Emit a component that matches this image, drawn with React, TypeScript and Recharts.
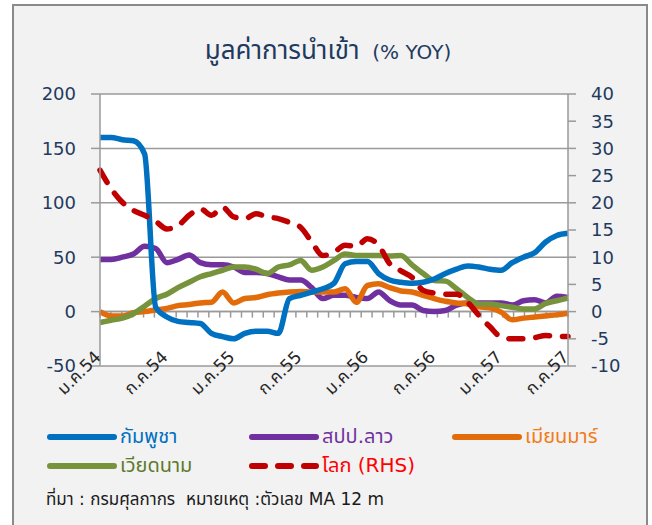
import React from "react";
import {
  ComposedChart,
  Line,
  XAxis,
  YAxis,
  CartesianGrid,
  ReferenceLine,
} from "recharts";

const categories = [
  "ม.ค.54","ก.พ.54","มี.ค.54","เม.ย.54","พ.ค.54","มิ.ย.54","ก.ค.54","ส.ค.54","ก.ย.54","ต.ค.54","พ.ย.54","ธ.ค.54",
  "ม.ค.55","ก.พ.55","มี.ค.55","เม.ย.55","พ.ค.55","มิ.ย.55","ก.ค.55","ส.ค.55","ก.ย.55","ต.ค.55","พ.ย.55","ธ.ค.55",
  "ม.ค.56","ก.พ.56","มี.ค.56","เม.ย.56","พ.ค.56","มิ.ย.56","ก.ค.56","ส.ค.56","ก.ย.56","ต.ค.56","พ.ย.56","ธ.ค.56",
  "ม.ค.57","ก.พ.57","มี.ค.57","เม.ย.57","พ.ค.57","มิ.ย.57","ก.ค.57",
];

const cambodia = [160,160,158,157,145,4,-5,-9,-10,-11,-20,-23,-25,-20,-18,-18,-20,12,15,18,21,26,44,46,46,35,29,27,26,27,30,35,39,42,41,39,38,45,50,54,64,70,72];
const laos = [48,48,50,53,60,58,45,48,52,45,43,43,41,36,36,35,32,29,29,22,12,15,15,13,12,18,10,6,6,1,0,1,6,8,8,8,8,6,10,11,8,14,13];
const myanmar = [0,-4,-4,-1,0,1.5,3,5.5,6.5,8,8.5,18,8,12,13,15.5,17,18,18.5,18,18,18,21,8.5,24,25.5,22,19,18,15,12,9.5,8,7,4.5,3.5,-0.5,-7.5,-6,-5,-4,-3,-1.5];
const vietnam = [-10,-8,-6,-2,5,12,16,22,27,32,35,38,41,41,39,35,41,43,47,38,41,47,53,51.5,51.5,51.5,51,51.5,43,35,28.5,28,21,13,7,7,5.5,4,2.5,2.5,7.5,10,12.5];
const world = [26,22.6,20.1,18.6,17.7,16.6,15.2,15.8,17.7,18.9,17.7,19.2,17.4,17.1,18,17.4,17.1,16.4,15.5,12.8,10.3,10.9,12.2,12,13.4,12.2,8.8,7.5,6.3,3.9,3.4,3.2,3.2,1.7,-0.7,-2.8,-4.7,-5,-5,-4.8,-4.4,-4.6,-4.6];

const leftTicks = [-50, 0, 50, 100, 150, 200];
const rightTicks = [-10, -5, 0, 5, 10, 15, 20, 25, 30, 35, 40];

const data = categories.map((c, i) => ({
  month: c,
  cambodia: cambodia[i],
  laos: laos[i],
  myanmar: myanmar[i],
  vietnam: vietnam[i],
  world: world[i],
}));

const FONT = "'DejaVu Sans', 'Noto Sans Thai', 'Noto Sans', sans-serif";
const NAVY = "#1F3A60";
const GRID = "#9a9a9a";

const ZeroAxis = (props: any) => {
  const { x1, y1, x2 } = props;
  const n = categories.length;
  const step = (x2 - x1) / n;
  const ticks = [];
  for (let k = 0; k <= n; k++) {
    const x = x1 + k * step;
    ticks.push(<line key={k} x1={x} x2={x} y1={y1} y2={y1 + 6} stroke={GRID} strokeWidth={1.5} />);
  }
  return (
    <g>
      <line x1={x1} x2={x2} y1={y1} y2={y1} stroke={GRID} strokeWidth={1.5} />
      {ticks}
    </g>
  );
};

const XTick = (props: any) => {
  const { x, y, payload } = props;
  const ax = x + 2;
  const ay = y - 8;
  return (
    <text
      x={ax}
      y={ay}
      transform={`rotate(-45, ${ax}, ${ay})`}
      textAnchor="end"
      fontSize={17}
      fill="#262626"
      fontFamily={FONT}
    >
      {payload.value}
    </text>
  );
};

const LegendItem = ({ color, text, textColor, dashed, left, top }: any) => (
  <div style={{ position: "absolute", left, top, display: "flex", alignItems: "center", height: 24 }}>
    <svg width={72} height={10} style={{ display: "block" }}>
      <line
        x1={4}
        x2={68}
        y1={5}
        y2={5}
        stroke={color}
        strokeWidth={6}
        strokeLinecap="round"
        strokeDasharray={dashed ? "13 13" : undefined}
      />
    </svg>
    <span style={{ color: textColor, fontSize: 20, fontFamily: FONT, marginLeft: 2, whiteSpace: "nowrap" }}>{text}</span>
  </div>
);

export default function App() {
  return (
    <div style={{ position: "absolute", left: 0, top: 0, width: 652, height: 525, background: "#fff", overflow: "hidden" }}>
      <div
        style={{
          position: "absolute",
          left: 12,
          top: 4,
          width: 636,
          height: 540,
          border: "2px solid #8a8a8a",
          background: "#f2f2f2",
          boxSizing: "border-box",
        }}
      />
      <div
        style={{
          position: "absolute",
          left: 0,
          width: 656,
          top: 31,
          textAlign: "center",
          color: NAVY,
          fontFamily: FONT,
          whiteSpace: "nowrap",
        }}
      >
        <span style={{ fontSize: 26 }}>มูลค่าการนำเข้า</span>
        <span style={{ fontSize: 20 }}>{"\u00a0\u00a0(% YOY)"}</span>
      </div>
      <div style={{ position: "absolute", left: 0, top: 0 }}>
        <ComposedChart
          width={652}
          height={525}
          data={data}
          margin={{ top: 94, right: 34, bottom: 109, left: 50 }}
        >
          <CartesianGrid yAxisId="left" vertical={false} horizontal={true} stroke={GRID} strokeWidth={1.5} fill="#ffffff" fillOpacity={1} />
          <XAxis
            dataKey="month"
            interval={5}
            axisLine={false}
            tickLine={false}
            tickSize={0}
            tickMargin={0}
            height={50}
            tick={<XTick />}
          />
          <YAxis
            yAxisId="left"
            domain={[-50, 200]}
            ticks={leftTicks}
            width={50}
            axisLine={{ stroke: GRID, strokeWidth: 1.5 }}
            tickLine={{ stroke: GRID, strokeWidth: 1.5 }}
            tickSize={9}
            tickMargin={15}
            tick={{ fill: NAVY, fontSize: 18, fontFamily: FONT }}
            interval={0}
          />
          <YAxis
            yAxisId="right"
            orientation="right"
            domain={[-10, 40]}
            ticks={rightTicks}
            width={50}
            axisLine={{ stroke: GRID, strokeWidth: 1.5 }}
            tickLine={{ stroke: GRID, strokeWidth: 1.5 }}
            tickSize={8}
            tickMargin={15}
            tick={{ fill: NAVY, fontSize: 18, fontFamily: FONT, textAnchor: "start" }}
            interval={0}
          />
          <ReferenceLine yAxisId="left" y={0} shape={<ZeroAxis />} />
          <Line yAxisId="left" type="monotone" dataKey="laos" stroke="#7030A0" strokeWidth={5.5} dot={false} isAnimationActive={false} />
          <Line yAxisId="left" type="monotone" dataKey="myanmar" stroke="#E36C0A" strokeWidth={5.5} dot={false} isAnimationActive={false} />
          <Line yAxisId="left" type="monotone" dataKey="vietnam" stroke="#77933C" strokeWidth={5.5} dot={false} isAnimationActive={false} />
          <Line yAxisId="left" type="monotone" dataKey="cambodia" stroke="#0070C0" strokeWidth={5.5} dot={false} isAnimationActive={false} />
          <Line yAxisId="right" type="monotone" dataKey="world" stroke="#C00000" strokeWidth={5.5} strokeDasharray="14 13" strokeLinecap="round" dot={false} isAnimationActive={false} />
        </ComposedChart>
      </div>
      <LegendItem color="#0070C0" textColor="#0070C0" text="กัมพูชา" left={46} top={425} />
      <LegendItem color="#7030A0" textColor="#7030A0" text="สปป.ลาว" left={248} top={425} />
      <LegendItem color="#E36C0A" textColor="#F07D1A" text="เมียนมาร์" left={451} top={425} />
      <LegendItem color="#77933C" textColor="#5E7A2E" text="เวียดนาม" left={46} top={454} />
      <LegendItem color="#C00000" textColor="#FF0000" text="โลก (RHS)" left={248} top={454} dashed />
      <div style={{ position: "absolute", left: 46, top: 487, fontSize: 17, fontFamily: FONT, color: "#1a1a1a", whiteSpace: "nowrap" }}>
        ที่มา : กรมศุลกากร&nbsp;&nbsp;หมายเหตุ :ตัวเลข MA 12 m
      </div>
    </div>
  );
}
